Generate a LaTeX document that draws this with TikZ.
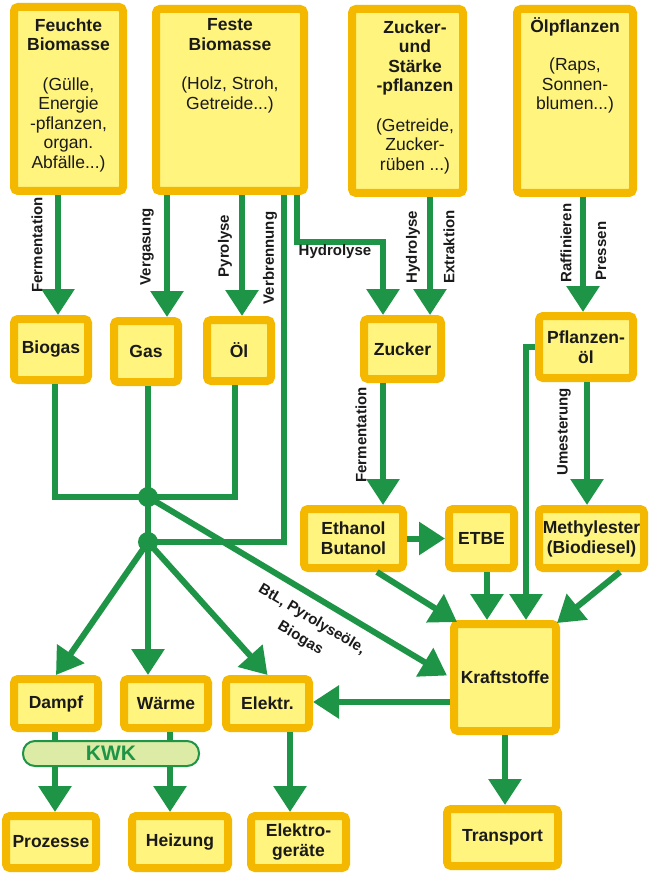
\documentclass[tikz,border=0pt]{standalone}
\usepackage{fontspec}
\setmainfont{Liberation Sans}
\usetikzlibrary{arrows.meta}
\definecolor{bord}{HTML}{F4B800}
\definecolor{fillc}{HTML}{FFF47E}
\definecolor{grn}{HTML}{1E9446}
\definecolor{kwkfill}{HTML}{DCEBA5}
\definecolor{txt}{HTML}{1A1A1A}
\tikzset{
 box/.style={draw=bord, fill=fillc, line width=8pt, rounded corners=4pt, inner sep=0pt, text=txt, font=\bfseries\fontsize{17.5}{20}\selectfont, align=center},
 con/.style={draw=grn, line width=6pt},
 arr/.style={con, -{Triangle[width=32pt,length=26pt]}},
 lbl/.style={text=txt, font=\bfseries\fontsize{15}{22}\selectfont, inner sep=0pt},
 head/.style={text=txt, font=\fontsize{17.5}{19.5}\selectfont, align=center, inner sep=0pt, anchor=north},
 jn/.style={circle, fill=grn, minimum size=20pt, inner sep=0pt},
 kwkbox/.style={draw=grn, line width=2pt, fill=kwkfill, rounded corners=12pt, inner sep=0pt, text=grn, font=\bfseries\fontsize{21}{22}\selectfont},
}
\begin{document}
\begin{tikzpicture}[x=1pt,y=-1pt]
\path[use as bounding box, fill=white] (0,0) rectangle (652,874);
% top boxes
\node[box, minimum width=109pt, minimum height=184pt] (fb) at (68.5,99) {};
\node[box, minimum width=148pt, minimum height=182pt] (fe) at (230,100) {};
\node[box, minimum width=111pt, minimum height=184pt] (zs) at (407.5,101) {};
\node[box, minimum width=116pt, minimum height=184pt] (op) at (575,101) {};
\node[head] (fbT) at (68.5,18.4) {\textbf{Feuchte}\\\textbf{Biomasse}\\[20pt](Gülle,\\Energie\\-pflanzen,\\organ.\\Abfälle...)};
\node[head] (feT) at (230,18.6) {\textbf{Feste}\\\textbf{Biomasse}\\[20pt](Holz, Stroh,\\Getreide...)};
\node[head] (zsT) at (415,20.4) {\textbf{Zucker-}\\\textbf{und}\\\textbf{Stärke}\\\textbf{-pflanzen}\\[20pt](Getreide,\\Zucker-\\rüben ...)};
\node[head] (opT) at (575,17.6) {\textbf{Ölpflanzen}\\[18.5pt](Raps,\\Sonnen-\\blumen...)};
% second row
\node[box, minimum width=74pt, minimum height=61pt] (biogas) at (51,349.5) {Biogas};
\node[box, minimum width=64pt, minimum height=61pt] (gas) at (146,351.5) {Gas};
\node[box, minimum width=64pt, minimum height=61pt] (oel) at (239,350.5) {Öl};
\node[box, minimum width=77pt, minimum height=60pt] (zucker) at (402.5,349) {Zucker};
\node[box, minimum width=94pt, minimum height=62pt] (pfl) at (586,347) {Pflanzen-\\öl};
% third row
\node[box, minimum width=99pt, minimum height=59pt] (eth) at (353.5,538.5) {Ethanol\\Butanol};
\node[box, minimum width=65pt, minimum height=59pt] (etbe) at (481.5,538.5) {ETBE};
\node[box, minimum width=105pt, minimum height=59pt] (meth) at (591.5,538.5) {Methylester\\(Biodiesel)};
\node[box, minimum width=102pt, minimum height=107pt] (kraft) at (505,677.5) {Kraftstoffe};
% fourth row
\node[box, minimum width=84pt, minimum height=49pt] (dampf) at (56,703.5) {Dampf};
\node[box, minimum width=84pt, minimum height=49pt] (waerme) at (166,703.5) {Wärme};
\node[box, minimum width=83pt, minimum height=49pt] (elektr) at (267.5,703.5) {Elektr.};
% bottom row
\node[box, minimum width=90pt, minimum height=52pt] (proz) at (51,842) {Prozesse};
\node[box, minimum width=96pt, minimum height=52pt] (heiz) at (180,842) {Heizung};
\node[box, minimum width=95pt, minimum height=52pt] (geraete) at (298.5,842) {Elektro-\\geräte};
\node[box, minimum width=111pt, minimum height=57pt] (transport) at (502.5,837.5) {Transport};
% junctions
\node[jn] (j1) at (148,497) {};
\node[jn] (j2) at (148,542) {};
% connectors from top
\draw[arr] ([xshift=-10.5pt]fb.south) -- ([xshift=-10.5pt]fb.south |- biogas.north);
\draw[arr] ([xshift=-63pt]fe.south) -- ([xshift=-63pt]fe.south |- gas.north);
\draw[arr] ([xshift=12pt]fe.south) -- ([xshift=12pt]fe.south |- oel.north);
\draw[con] ([xshift=54pt]fe.south) |- (j2.center);
\draw[arr] ([xshift=67pt]fe.south) -- ++(0,47) -| ([xshift=-19.5pt]zucker.north);
\draw[arr] ([xshift=22.5pt]zs.south) -- ([xshift=22.5pt]zs.south |- zucker.north);
\draw[arr] ([xshift=8pt]op.south) -- ([xshift=8pt]op.south |- pfl.north);
% bracket
\draw[con] ([xshift=4pt]biogas.south) |- (j1.center);
\draw[con] ([xshift=-4pt]oel.south) |- (j1.center);
\draw[con] ([xshift=2pt]gas.south) -- (j2.center);
\draw[arr] (j1.center) -- ([xshift=-3pt,yshift=2pt]kraft.west);
\draw[arr] (j2.center) -- (dampf.north);
\draw[arr] (j2.center) -- (j2.center |- waerme.north);
\draw[arr] (j2.center) -- (elektr.north);
% middle right
\draw[arr] ([xshift=-19.5pt]zucker.south) -- ([xshift=-19.5pt]zucker.south |- eth.north);
\draw[arr] ([xshift=1pt]pfl.south) -- ([xshift=1pt]pfl.south |- meth.north);
\draw[arr] (eth.east) -- (etbe.west);
\draw[arr] ([xshift=23.5pt]eth.south) -- ([xshift=7pt,yshift=-2pt]kraft.north west);
\draw[arr] ([xshift=5.5pt]etbe.south) -- ([xshift=5.5pt]etbe.south |- kraft.north);
\draw[arr] (pfl.west) -| ([xshift=21pt]kraft.north);
\draw[arr] ([xshift=28.5pt]meth.south) -- ([xshift=-3pt,yshift=-3pt]kraft.north east);
\draw[arr] ([yshift=-24.5pt]kraft.west) -- ([yshift=-24.5pt]kraft.west -| elektr.east);
\draw[arr] (kraft.south) -- (kraft.south |- transport.north);
% bottom
\draw[arr] ([xshift=-1pt]dampf.south) -- ([xshift=-1pt]dampf.south |- proz.north);
\draw[arr] ([xshift=4pt]waerme.south) -- ([xshift=4pt]waerme.south |- heiz.north);
\draw[arr] ([xshift=22.5pt]elektr.south) -- ([xshift=22.5pt]elektr.south |- geraete.north);
\node[kwkbox, minimum width=176pt, minimum height=25pt] (kwk) at (111,753.5) {KWK};
% labels
\node[lbl, rotate=90] (lFerm1) at (37,245) {Fermentation};
\node[lbl, rotate=90] (lVerg) at (147,247) {Vergasung};
\node[lbl, rotate=90] (lPyro) at (225,246) {Pyrolyse};
\node[lbl, rotate=90] (lVerb) at (270,258) {Verbrennung};
\node[lbl] (lHydH) at (335,252) {Hydrolyse};
\node[lbl, rotate=90] (lHydV) at (413,247) {Hydrolyse};
\node[lbl, rotate=90] (lExtr) at (449,247) {Extraktion};
\node[lbl, rotate=90] (lRaff) at (566,243) {Raffinieren};
\node[lbl, rotate=90] (lPres) at (601,251) {Pressen};
\node[lbl, rotate=90] (lFerm2) at (361,435) {Fermentation};
\node[lbl, rotate=90] (lUmes) at (564,432) {Umesterung};
\node[lbl, rotate=-31, align=center] (lBtl) at (306,629) {BtL, Pyrolyseöle,\\Biogas};
\end{tikzpicture}
\end{document}
